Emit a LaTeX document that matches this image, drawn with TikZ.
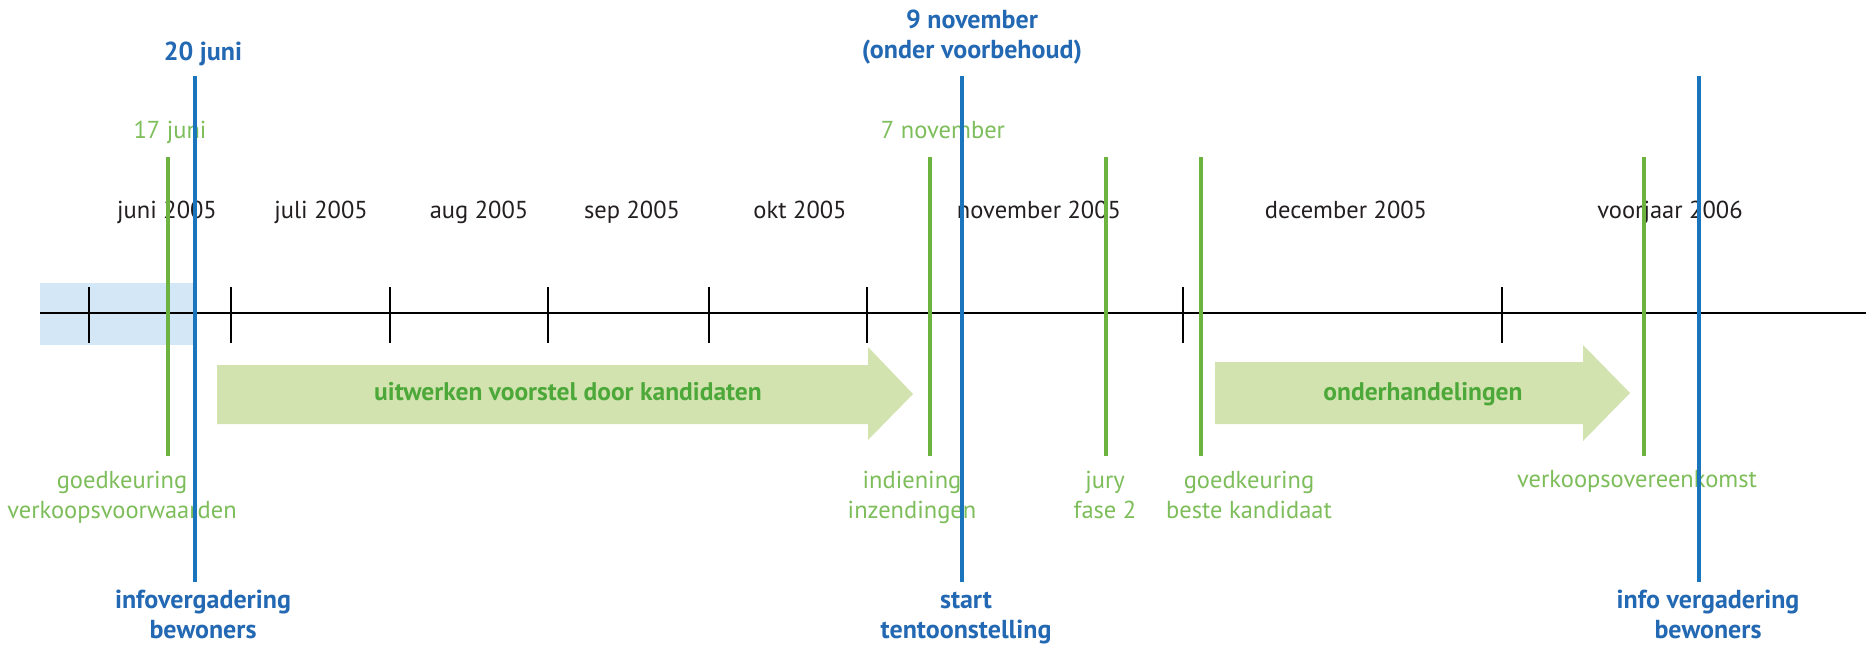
\documentclass[tikz,border=0pt]{standalone}
\usepackage{fontspec}
\setmainfont{PT Sans}
\definecolor{lineblue}{HTML}{1B75BC}
\definecolor{textblue}{HTML}{2268B2}
\definecolor{linegreen}{HTML}{6CB33F}
\definecolor{textgreen}{HTML}{7DBD5A}
\definecolor{arrowfill}{HTML}{D3E3B0}
\definecolor{arrowtext}{HTML}{4DA83A}
\definecolor{spanfill}{HTML}{D4E7F7}
\definecolor{darktext}{HTML}{231F20}
\begin{document}
\begin{tikzpicture}[x=1pt,y=-1pt,
  month/.style={text=darktext, font=\fontsize{24.5}{29}\selectfont, inner sep=0pt, anchor=base},
  glabel/.style={text=textgreen, font=\fontsize{24.5}{30}\selectfont, align=center, inner sep=0pt, anchor=base},
  blabel/.style={text=textblue, font=\bfseries\fontsize{26}{30}\selectfont, align=center, inner sep=0pt, anchor=base},
  gline/.style={draw=linegreen, line width=4.5pt},
  bline/.style={draw=lineblue, line width=4.5pt},
  axisline/.style={draw=black, line width=2.5pt},
  tickmark/.style={draw=black, line width=2.5pt},
  phase/.style={fill=arrowfill},
  phasetext/.style={text=arrowtext, font=\bfseries\fontsize{25.5}{29}\selectfont, inner sep=0pt, anchor=base}
]
\useasboundingbox[fill=white] (0,0) rectangle (1872,649);

% highlighted span
\fill[spanfill] (40,283) rectangle (195,345);

% axis
\coordinate (axL) at (40,313);
\coordinate (axR) at (1866,313);
\draw[axisline] (axL) -- (axR);

% ticks
\foreach \x [count=\i] in {89,231,390,548,709,867,1183,1502}{
  \coordinate (tt\i) at (\x,287);
  \coordinate (tb\i) at (\x,343);
  \draw[tickmark] (tt\i) -- (tb\i);
}

% phase arrows
\path[phase] (217,365) -- (868,365) -- (868,347) -- (913,394) -- (868,440) -- (868,424) -- (217,424) -- cycle;
\node[phasetext] (ph1) at (568,400) {uitwerken voorstel door kandidaten};
\path[phase] (1215,362) -- (1583,362) -- (1583,345) -- (1630,393) -- (1583,441) -- (1583,424) -- (1215,424) -- cycle;
\node[phasetext] (ph2) at (1423,400) {onderhandelingen};

% month labels
\node[month] (m1) at (167,218) {juni 2005};
\node[month] (m2) at (321,218) {juli 2005};
\node[month] (m3) at (479,218) {aug 2005};
\node[month] (m4) at (632,218) {sep 2005};
\node[month] (m5) at (800,218) {okt 2005};
\node[month] (m6) at (1039,218) {november 2005};
\node[month] (m7) at (1346,218) {december 2005};
\node[month] (m8) at (1670,218) {voorjaar 2006};

% green labels
\node[glabel] (gt1) at (170,138) {17 juni};
\node[glabel] (gt2) at (943,138) {7 november};
\node[glabel] (gb1) at (122,518) {goedkeuring\\verkoopsvoorwaarden};
\node[glabel] (gb2) at (912,518) {indiening\\inzendingen};
\node[glabel] (gb3) at (1105,518) {jury\\fase 2};
\node[glabel] (gb4) at (1249,518) {goedkeuring\\beste kandidaat};
\node[glabel] (gb5) at (1637,487) {verkoopsovereenkomst};

% blue labels
\node[blabel] (bt1) at (203,60) {20 juni};
\node[blabel] (bt2) at (972,58) {9 november\\(onder voorbehoud)};
\node[blabel] (bb1) at (203,638) {infovergadering\\bewoners};
\node[blabel] (bb2) at (966,638) {start\\tentoonstelling};
\node[blabel] (bb3) at (1708,638) {info vergadering\\bewoners};

% green event lines
\foreach \x [count=\i] in {168,930,1106,1201,1644}{
  \coordinate (gtop\i) at (\x,157);
  \coordinate (gbot\i) at (\x,456);
  \draw[gline] (gtop\i) -- (gbot\i);
}
% blue event lines
\foreach \x [count=\i] in {195,962,1699}{
  \coordinate (btop\i) at (\x,76);
  \coordinate (bbot\i) at (\x,582);
  \draw[bline] (btop\i) -- (bbot\i);
}
\end{tikzpicture}
\end{document}
